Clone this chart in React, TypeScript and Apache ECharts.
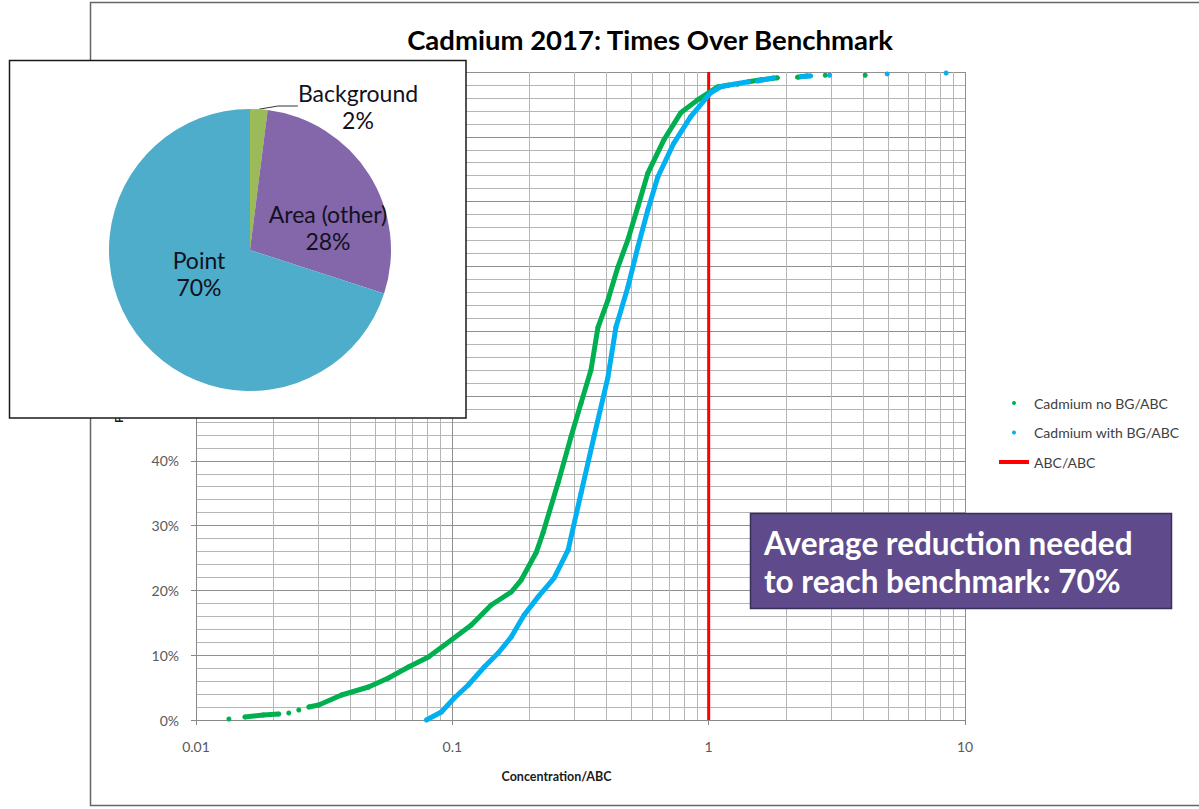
import React, { useEffect, useRef } from "react";
import * as echarts from "echarts";

const titleText = "Cadmium 2017: Times Over Benchmark";
const seriesNames = ["Cadmium no BG/ABC", "Cadmium with BG/ABC", "ABC/ABC"];
const xAxisName = "Concentration/ABC";
const yAxisName = "Percentile";
const noteText = "Average reduction needed\nto reach benchmark: 70%";

// Cumulative curves: concentration ratio (x) and percentile (y); null = gap between dots
const noBgConc: (number | null)[] = [
  0.01344, null, 0.01551, 0.0183, 0.02104, null, 0.02301, null, 0.02517, null,
  0.02753, 0.03011, 0.03698, 0.04711, 0.05636, 0.06743, 0.08066, 0.0991, 0.1186, 0.1418,
  0.1697, 0.1856, 0.2122, 0.2259, 0.2585, 0.2904, 0.3177, 0.3474, 0.3699, 0.4046,
  0.4425, 0.484, 0.5295, 0.579, 0.6682, 0.778, 0.9062, 1.084, 1.2, null,
  1.297, null, 1.43, 1.6, 1.856, null, 2.22, 2.428, null, 2.85, null, 4.08,
];
const noBgPct: (number | null)[] = [
  0.15, null, 0.46, 0.77, 0.93, null, 1.08, null, 1.54, null,
  2.0, 2.31, 3.86, 5.09, 6.48, 8.18, 9.72, 12.35, 14.66, 17.75,
  19.75, 21.6, 25.8, 28.9, 36.6, 43.7, 48.9, 54.0, 60.6, 64.8,
  69.9, 74.1, 79.2, 84.4, 89.5, 93.7, 95.7, 97.7, 98.0, null,
  98.1, null, 98.5, 98.8, 99.1, null, 99.2, 99.4, null, 99.5, null, 99.5,
];
const withBgConc: (number | null)[] = [
  0.0792, 0.0906, 0.1018, 0.1154, 0.1332, 0.151, 0.1697, 0.1906, 0.2161, 0.2493,
  0.2828, 0.3177, 0.3568, 0.4046, 0.4346, 0.484, 0.5295, 0.579, 0.6332, 0.7307,
  0.8511, 1.018, 1.113, 1.25, 1.43, null, 1.55, 1.79, null, 2.3, 2.5, null,
  2.96, null, 4.97, null, 8.44,
];
const withBgPct: (number | null)[] = [
  0.0, 1.23, 3.4, 5.4, 8.18, 10.34, 12.81, 16.2, 19.0, 21.9,
  26.2, 35.0, 43.7, 52.9, 60.6, 66.8, 73.0, 78.7, 83.8, 89.0,
  93.1, 96.8, 97.7, 98.1, 98.5, null, 98.6, 99.1, null, 99.3, 99.4, null,
  99.5, null, 99.7, null, 99.85,
];
const benchmarkConc = [1, 1];
const benchmarkPct = [0, 100];

// Minor log grid lines (2..9 of each decade)
const minorGridX = [
  0.02, 0.03, 0.04, 0.05, 0.06, 0.07, 0.08, 0.09,
  0.2, 0.3, 0.4, 0.5, 0.6, 0.7, 0.8, 0.9,
  2, 3, 4, 5, 6, 7, 8, 9,
];
// y tick labels visible below the inset (the rest are covered by it)
const maxVisibleYLabel = 40;

// Pie inset
const pieNames = ["Background", "Area (other)", "Point"];
const pieValues = [2, 28, 70];
const pieColors = ["#9BBB59", "#8466AA", "#4DADCA"];
const pieLabelPos = [
  [358, 106],
  [328, 227],
  [199, 273],
];

const GREEN = "#00B050";
const BLUE = "#00B0F0";
const RED = "#FF0000";
const FONT = "Lato";

function pairs(xs: (number | null)[], ys: (number | null)[]) {
  return xs.map((x, i) => (x == null || ys[i] == null ? [x ?? "-", "-"] : [x, ys[i]]));
}

export default function App() {
  const ref = useRef<HTMLDivElement>(null);
  useEffect(() => {
    if (!ref.current) return;
    const chart = echarts.init(ref.current, null, { renderer: "svg" });
    const option: any = {
      animation: false,
      backgroundColor: "#ffffff",
      title: {
        text: titleText,
        left: 645,
        top: 20,
        textAlign: "center",
        textStyle: { fontFamily: FONT, fontSize: 27.5, fontWeight: "bold", color: "#000" },
      },
      legend: {
        orient: "vertical",
        left: 999,
        top: 396,
        padding: 0,
        itemWidth: 30,
        itemHeight: 4,
        itemGap: 15.5,
        textStyle: { fontFamily: FONT, fontSize: 14, color: "#404040", lineHeight: 14 },
        data: [
          { name: seriesNames[0], icon: "circle" },
          { name: seriesNames[1], icon: "circle" },
          { name: seriesNames[2], icon: "rect" },
        ],
      },
      grid: { left: 196, right: 234, top: 72, bottom: 89 },
      xAxis: {
        type: "log",
        logBase: 10,
        min: 0.01,
        max: 10,
        name: xAxisName,
        nameLocation: "middle",
        nameGap: 50,
        nameTextStyle: {
          fontFamily: FONT,
          fontSize: 12.5,
          fontWeight: "bold",
          color: "#1a1a1a",
          padding: [0, 48, 0, 0],
        },
        axisLine: { show: true, lineStyle: { color: "#888888" } },
        axisTick: { show: true, length: 5, lineStyle: { color: "#888888" } },
        axisLabel: {
          margin: 19,
          fontFamily: FONT,
          fontSize: 14,
          color: "#595959",
          formatter: (v: number) => String(+v.toPrecision(3)),
        },
        splitLine: { show: true, lineStyle: { color: "#8f8f8f", width: 1 } },
      },
      yAxis: {
        type: "value",
        min: 0,
        max: 100,
        interval: 10,
        name: yAxisName,
        nameLocation: "middle",
        nameGap: 72,
        nameTextStyle: { fontFamily: FONT, fontSize: 12, fontWeight: "bold", color: "#1a1a1a" },
        axisLine: { show: true, lineStyle: { color: "#888888" } },
        axisTick: { show: true, length: 5, lineStyle: { color: "#888888" } },
        axisLabel: {
          margin: 17,
          fontFamily: FONT,
          fontSize: 14,
          color: "#595959",
          formatter: (v: number) => (v <= maxVisibleYLabel ? `${v}%` : ""),
        },
        splitLine: { show: true, lineStyle: { color: "#8f8f8f", width: 1 } },
        minorTick: { show: false, splitNumber: 5 },
        minorSplitLine: { show: true, lineStyle: { color: "#b5b5b5", width: 1 } },
      },
      graphic: [
        {
          type: "rect",
          z: 0,
          silent: true,
          shape: { x: 90.5, y: 2.5, width: 1200, height: 803 },
          style: { fill: "none", stroke: "#666666", lineWidth: 1.5 },
        },
        {
          type: "rect",
          z: 10,
          silent: true,
          shape: { x: 9.5, y: 60.5, width: 456.5, height: 357.5 },
          style: { fill: "#ffffff", stroke: "#1a1a1a", lineWidth: 1.5 },
        },
        {
          type: "rect",
          z: 10,
          silent: true,
          shape: { x: 750.5, y: 513.5, width: 421, height: 95 },
          style: { fill: "#5F4B8B", stroke: "#3b2e5c", lineWidth: 1.5 },
        },
        {
          type: "text",
          z: 11,
          silent: true,
          x: 764,
          y: 562,
          style: {
            text: noteText,
            fill: "#ffffff",
            font: `bold 31.5px ${FONT}`,
            lineHeight: 38,
            verticalAlign: "middle",
            align: "left",
          },
        },
      ],
      series: [
        {
          name: seriesNames[0],
          type: "line",
          data: pairs(noBgConc, noBgPct),
          color: GREEN,
          lineStyle: { width: 5, color: GREEN },
          symbol: "circle",
          symbolSize: 5,
          showSymbol: true,
          showAllSymbol: true,
          connectNulls: false,
          itemStyle: { color: GREEN },
          z: 3,
        },
        {
          name: seriesNames[1],
          type: "line",
          data: pairs(withBgConc, withBgPct),
          color: BLUE,
          lineStyle: { width: 5, color: BLUE },
          symbol: "circle",
          symbolSize: 5,
          showSymbol: true,
          showAllSymbol: true,
          connectNulls: false,
          itemStyle: { color: BLUE },
          z: 4,
        },
        {
          name: seriesNames[2],
          type: "line",
          data: benchmarkConc.map((x, i) => [x, benchmarkPct[i]]),
          color: RED,
          lineStyle: { width: 3, color: RED },
          itemStyle: { color: RED },
          symbol: "none",
          z: 2,
          markLine: {
            silent: true,
            z: 1,
            symbol: ["none", "none"],
            label: { show: false },
            lineStyle: { color: "#b5b5b5", width: 1, type: "solid" },
            data: minorGridX.map((v) => ({ xAxis: v })),
          },
        },
        {
          name: "Sources",
          type: "pie",
          z: 20,
          center: [250, 250],
          radius: 141,
          startAngle: 90,
          clockwise: true,
          silent: true,
          data: pieNames.map((n, i) => ({
            name: n,
            value: pieValues[i],
            itemStyle: { color: pieColors[i] },
            label: i === 0 ? { position: "outside" } : { position: "inside" },
            labelLine: { show: i === 0 },
          })),
          label: {
            show: true,
            formatter: "{b}\n{d}%",
            fontFamily: FONT,
            fontSize: 23,
            lineHeight: 27,
            color: "#111122",
          },
          labelLine: { length: 8, length2: 20, lineStyle: { color: "#333333", width: 1 } },
          labelLayout: (p: any) => {
            const pos = pieLabelPos[p.dataIndex];
            return { x: pos[0], y: pos[1], align: "center", verticalAlign: "middle" };
          },
        },
      ],
    };
    chart.setOption(option);
    return () => chart.dispose();
  }, []);
  return (
    <div
      ref={ref}
      style={{ position: "fixed", left: 0, top: 0, width: 1199, height: 809, background: "#fff" }}
    />
  );
}
